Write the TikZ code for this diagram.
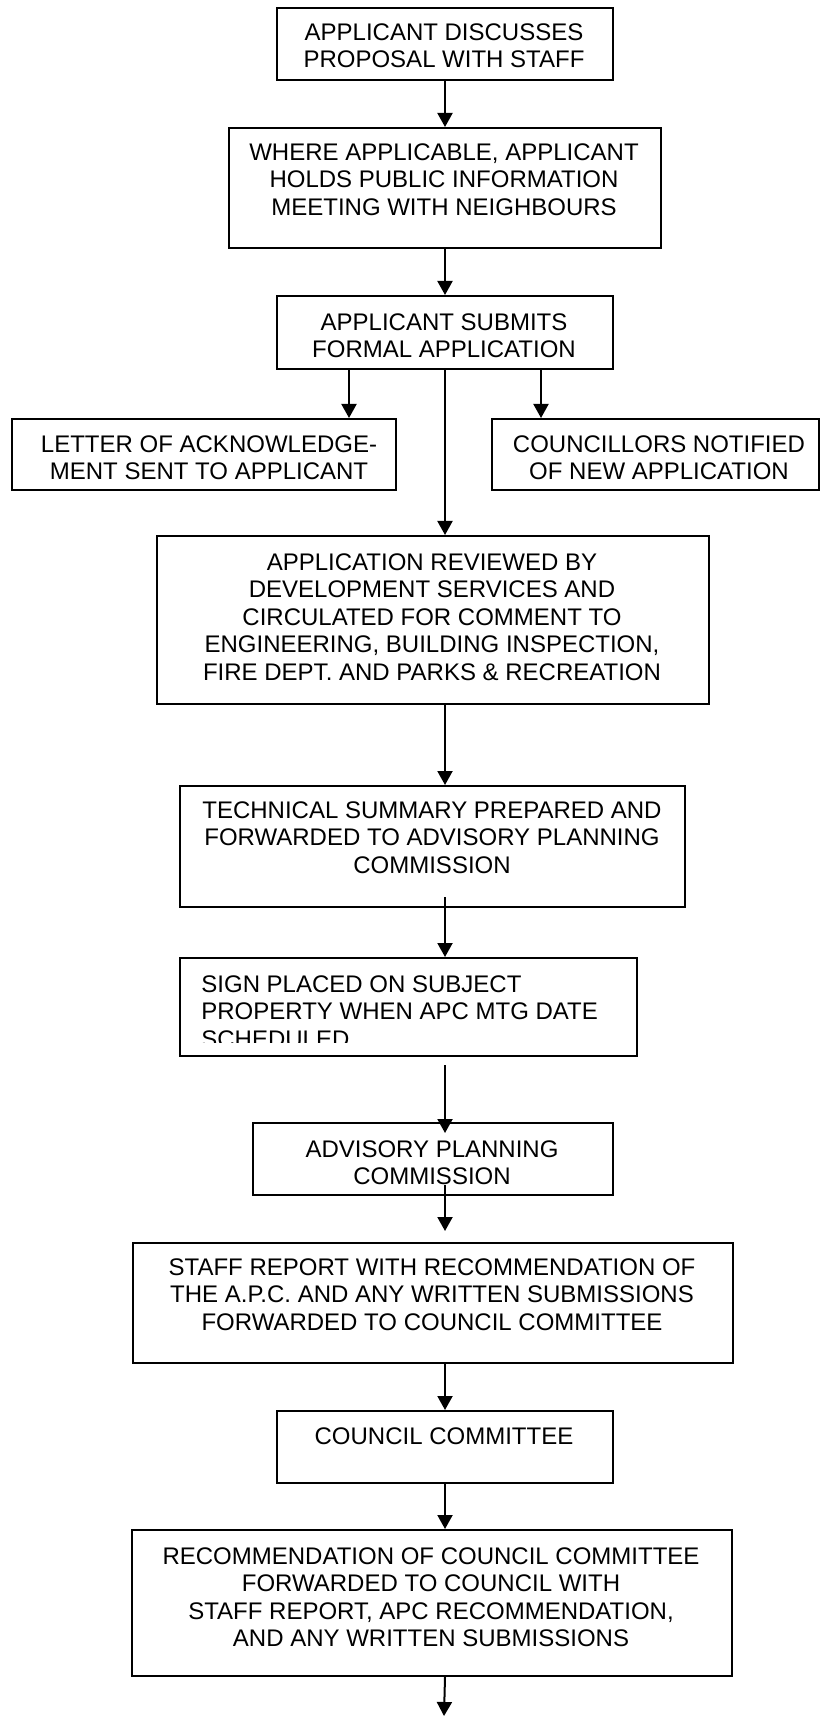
\documentclass[tikz,border=0pt]{standalone}
\usepackage{fontspec}
\setmainfont{Liberation Sans}
\usetikzlibrary{arrows.meta}
\begin{document}
\begin{tikzpicture}[x=0.5pt,y=-0.5pt,
  box/.style={draw=black,line width=1pt,inner sep=0pt,anchor=north west,fill=none},
  txt/.style={inner sep=0pt,anchor=north,align=center,font=\fontsize{12}{13.8}\selectfont},
  arr/.style={line width=1pt,-{Triangle[width=7.5pt,length=7pt]}}]
\useasboundingbox (0,0) rectangle (819,1716);
% boxes
\node[box,minimum width=168pt,minimum height=36pt] (b1) at (276,7) {};
\node[box,minimum width=216pt,minimum height=60pt] (b2) at (228,127) {};
\node[box,minimum width=168pt,minimum height=36.5pt] (b3) at (276,295) {};
\node[box,minimum width=192pt,minimum height=35.5pt] (bL) at (11,418) {};
\node[box,minimum width=163.5pt,minimum height=35.5pt] (bR) at (491,418) {};
\node[box,minimum width=276pt,minimum height=84pt] (b4) at (156,535) {};
\node[box,minimum width=252.5pt,minimum height=60.5pt] (b5) at (179,785) {};
\node[box,minimum width=228.5pt,minimum height=49pt] (b6) at (179,957) {};
\node[box,minimum width=180pt,minimum height=36pt] (b7) at (252,1122) {};
\node[box,minimum width=300pt,minimum height=60pt] (b8) at (132,1242) {};
\node[box,minimum width=168pt,minimum height=36pt] (b9) at (276,1410) {};
\node[box,minimum width=300pt,minimum height=73pt] (b10) at (131,1529) {};
% texts
\node[txt] (t1) at (444,23) {APPLICANT DISCUSSES\\PROPOSAL WITH STAFF};
\node[txt] (t2) at (444,143) {WHERE APPLICABLE, APPLICANT\\HOLDS PUBLIC INFORMATION\\MEETING WITH NEIGHBOURS};
\node[txt] (t3) at (444,313) {APPLICANT SUBMITS\\FORMAL APPLICATION};
\node[txt] (tL) at (209,435) {LETTER OF ACKNOWLEDGE-\\MENT SENT TO APPLICANT};
\node[txt] (tR) at (659,435) {COUNCILLORS NOTIFIED\\OF NEW APPLICATION};
\node[txt] (t4) at (432,553) {APPLICATION REVIEWED BY\\DEVELOPMENT SERVICES AND\\CIRCULATED FOR COMMENT TO\\ENGINEERING, BUILDING INSPECTION,\\FIRE DEPT. AND PARKS \& RECREATION};
\node[txt] (t5) at (432,801) {TECHNICAL SUMMARY PREPARED AND\\FORWARDED TO ADVISORY PLANNING\\COMMISSION};
\begin{scope}
\clip (179,957) rectangle (636,1042);
\node[txt,anchor=north west,align=left] (t6) at (201,975) {SIGN PLACED ON SUBJECT\\PROPERTY WHEN APC MTG DATE\\SCHEDULED};
\end{scope}
\node[txt] (t7) at (432,1140) {ADVISORY PLANNING\\COMMISSION};
\node[txt] (t8) at (432,1258) {STAFF REPORT WITH RECOMMENDATION OF\\THE A.P.C. AND ANY WRITTEN SUBMISSIONS\\FORWARDED TO COUNCIL COMMITTEE};
\node[txt] (t9) at (444,1427) {COUNCIL COMMITTEE};
\node[txt] (t10) at (431,1547) {RECOMMENDATION OF COUNCIL COMMITTEE\\FORWARDED TO COUNCIL WITH\\STAFF REPORT, APC RECOMMENDATION,\\AND ANY WRITTEN SUBMISSIONS};
% connectors
\draw[arr] (b1.south) -- (b2.north);
\draw[arr] (b2.south) -- (b3.north);
\draw[arr] ([xshift=-48pt]b3.south) -- ([xshift=-48pt]b3.south |- bL.north);
\draw[arr] ([xshift=48pt]b3.south) -- ([xshift=48pt]b3.south |- bR.north);
\draw[arr] (b3.south) -- (b3.south |- b4.north);
\draw[arr] (b3.south |- b4.south) -- (b3.south |- b5.north);
\draw[arr] ([yshift=5.5pt]b3.south |- b5.south) -- (b3.south |- b6.north);
\draw[arr] ([yshift=-4pt]b3.south |- b6.south) -- ([yshift=-5.5pt]b3.south |- b7.north);
\draw[arr] ([yshift=5.5pt]b3.south |- b7.south) -- ([yshift=5.5pt]b3.south |- b8.north);
\draw[arr] (b3.south |- b8.south) -- (b3.south |- b9.north);
\draw[arr] (b9.south) -- (b3.south |- b10.north);
\coordinate (end) at (444,1716);
\draw[arr] (b3.south |- b10.south) -- (end);
\end{tikzpicture}
\end{document}
